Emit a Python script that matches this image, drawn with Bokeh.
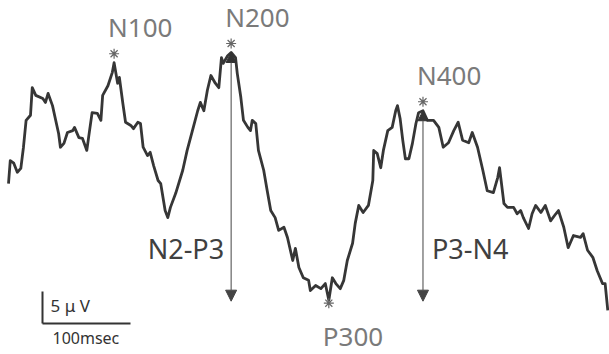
from bokeh.plotting import figure
from bokeh.models import Range1d, Arrow, NormalHead
from bokeh.core.properties import value
from bokeh.embed import file_html
from bokeh.resources import INLINE

# ---------------- data ----------------
# ERP waveform: latency (ms) and amplitude (uV, negative plotted upward)
time_ms = [0, 2, 6, 10, 14, 17, 20, 25, 27, 31, 39, 42, 45, 50, 53, 57, 59, 63, 67, 73,
           75, 80, 84, 89, 91, 95, 101, 105, 107, 113, 118, 120, 124, 126, 130, 133, 139, 142, 147, 150,
           153, 158, 161, 165, 170, 173, 178, 181, 184, 190, 198, 203, 209, 215, 218, 222, 226, 230, 235, 239,
           242, 244, 249, 253, 258, 260, 264, 267, 272, 275, 277, 281, 284, 290, 294, 298, 303, 307, 313, 317,
           323, 326, 330, 335, 341, 343, 349, 355, 360, 364, 368, 372, 377, 381, 385, 391, 394, 398, 403, 409,
           414, 415, 419, 423, 426, 431, 436, 440, 442, 445, 448, 451, 455, 459, 463, 466, 471, 476, 483, 489,
           494, 500, 506, 511, 516, 523, 527, 533, 539, 544, 551, 556, 558, 563, 567, 574, 578, 582, 585, 591,
           595, 599, 605, 610, 616, 622, 625, 631, 636, 642, 650, 653, 658, 664, 669, 675, 678, 681]
amp_uv = [0.5, -3.1, -2.7, -1.3, -1.9, -5.2, -9.4, -10.2, -14.5, -13.3, -12.8, -12.2, -13.6, -11.7, -9.8, -7.3, -5.2, -5.8, -7.5, -7.8,
          -8.3, -6.7, -6.6, -4.7, -6.7, -10.6, -10.5, -9.4, -13.3, -14.8, -16.9, -18.4, -15.2, -16.1, -12.0, -9.1, -8.6, -8.1, -9.1, -8.9,
          -5.2, -3.9, -4.4, -2.3, 0.0, 0.5, 4.7, 5.8, 4.2, 2.0, -1.6, -4.7, -7.8, -10.9, -12.2, -10.9, -14.1, -16.4, -15.2, -14.5,
          -19.2, -18.3, -19.5, -20.0, -19.2, -16.7, -13.0, -9.4, -8.3, -7.8, -9.4, -8.9, -4.7, -1.6, 1.6, 4.7, 5.8, 7.8, 7.3, 8.9,
          12.5, 10.6, 13.6, 15.2, 15.6, 17.2, 16.4, 16.9, 16.1, 18.7, 15.2, 16.1, 16.9, 15.6, 12.5, 9.8, 6.7, 3.9, 5.0, 3.9,
          0.0, -4.7, -4.2, -2.0, -4.7, -7.8, -8.3, -10.9, -11.7, -9.7, -6.3, -3.4, -3.4, -5.8, -8.9, -10.6, -10.9, -9.4, -9.4, -8.3,
          -5.2, -5.9, -7.8, -9.1, -6.3, -5.9, -7.5, -5.2, -1.6, 1.6, 1.9, -0.5, -2.0, 3.6, 4.2, 4.2, 5.2, 4.7, 5.8, 7.5,
          5.2, 3.9, 5.0, 3.9, 6.3, 5.2, 4.7, 7.3, 10.5, 8.6, 8.9, 8.3, 10.9, 12.0, 14.1, 16.1, 16.1, 20.3]

# Peaks
peak_names = ["N100", "N200", "P300", "N400"]
peak_t = [120, 253, 364, 471]
peak_uv = [-18.4, -20.0, 18.7, -10.9]

# Peak-to-peak amplitude components (negative peak -> P300)
comp_names = ["N2-P3", "P3-N4"]
comp_from = ["N200", "N400"]

# Scale bar
scale_ms = 100
scale_uv = 5
scale_labels = ["5 \u03bc V", "100msec"]

# ---------------- layout ----------------
W, H = 609, 354
PX_PER_MS = 0.88
PX_PER_UV = 6.4
X0_PX = 8.0                # frame pixel column of 0 ms
ZERO_PX = 180.0            # frame pixel row of 0 uV
x_start = -X0_PX / PX_PER_MS
x_end = (W - X0_PX) / PX_PER_MS
y_top = -ZERO_PX / PX_PER_UV
y_bot = (H - ZERO_PX) / PX_PER_UV

def dx(px):
    return px / PX_PER_MS

def dy(px):  # px downward on screen
    return px / PX_PER_UV

FONT = value("Noto Sans")
BIG_SHIFT = 11   # baseline correction for large text
SMALL_SHIFT = 5  # baseline correction for 16px text

p = figure(width=W, height=H, x_range=Range1d(x_start, x_end), y_range=Range1d(y_bot, y_top),
           output_backend="svg", toolbar_location=None, min_border=0,
           background_fill_color="white", border_fill_color="white")
p.axis.visible = False
p.grid.visible = False
p.outline_line_color = None

# waveform
p.line(time_ms, amp_uv, line_color="#363636", line_width=2.8, line_join="round")

pk = dict(zip(peak_names, zip(peak_t, peak_uv)))
p300_uv = pk["P300"][1]

# asterisks and peak labels
star_x, star_y, lab_x, lab_y = [], [], [], []
for name, t, a in zip(peak_names, peak_t, peak_uv):
    if a < 0:
        sy = a - dy(9)
        ly = a - dy(25 + BIG_SHIFT)
    else:
        sy = a + dy(3)
        ly = a + dy(47 - BIG_SHIFT)
    star_x.append(t)
    star_y.append(sy)
    lab_x.append(t - dx(6))
    lab_y.append(ly)

p.scatter(star_x, star_y, marker="asterisk", size=10, line_color="#666666", line_width=1.2)
p.text(lab_x, lab_y, text=peak_names, text_font=FONT, text_font_size="26px",
       text_color="#7a7a7a", text_align="left", text_baseline="alphabetic")

# arrows for peak-to-peak amplitudes
for cname, src in zip(comp_names, comp_from):
    t, a = pk[src]
    p.add_layout(Arrow(x_start=t, y_start=p300_uv + dy(1), x_end=t, y_end=a,
                       line_color="#555555", line_width=1.1,
                       start=NormalHead(size=11, fill_color="#444444", line_color="#444444"),
                       end=NormalHead(size=10, fill_color="#333333", line_color="#333333")))

c_x = [pk["N200"][0] - dx(7), pk["N400"][0] + dx(9)]
c_y = [p300_uv - dy(41 + BIG_SHIFT), p300_uv - dy(41 + BIG_SHIFT)]
p.text(c_x, c_y, text=comp_names, text_font=FONT, text_font_size="27px",
       text_color="#404040", text_align=["right", "left"], text_baseline="alphabetic")

# scale bar (corner at bottom left)
sb_x0 = dx(42 - X0_PX)
sb_y0 = (323 - ZERO_PX) / PX_PER_UV
p.segment(x0=[sb_x0, sb_x0], y0=[sb_y0, sb_y0], x1=[sb_x0, sb_x0 + scale_ms],
          y1=[sb_y0 - scale_uv, sb_y0], line_color="#333333", line_width=2)
p.text([sb_x0 + dx(8), sb_x0 + dx(10)],
       [sb_y0 - dy(15 + 3), sb_y0 + dy(19 - SMALL_SHIFT)], text=scale_labels,
       text_font=FONT, text_font_size=["17px", "16px"], text_color="#333333",
       text_align="left", text_baseline="alphabetic")

open("out.html", "w").write(file_html(p, INLINE))
